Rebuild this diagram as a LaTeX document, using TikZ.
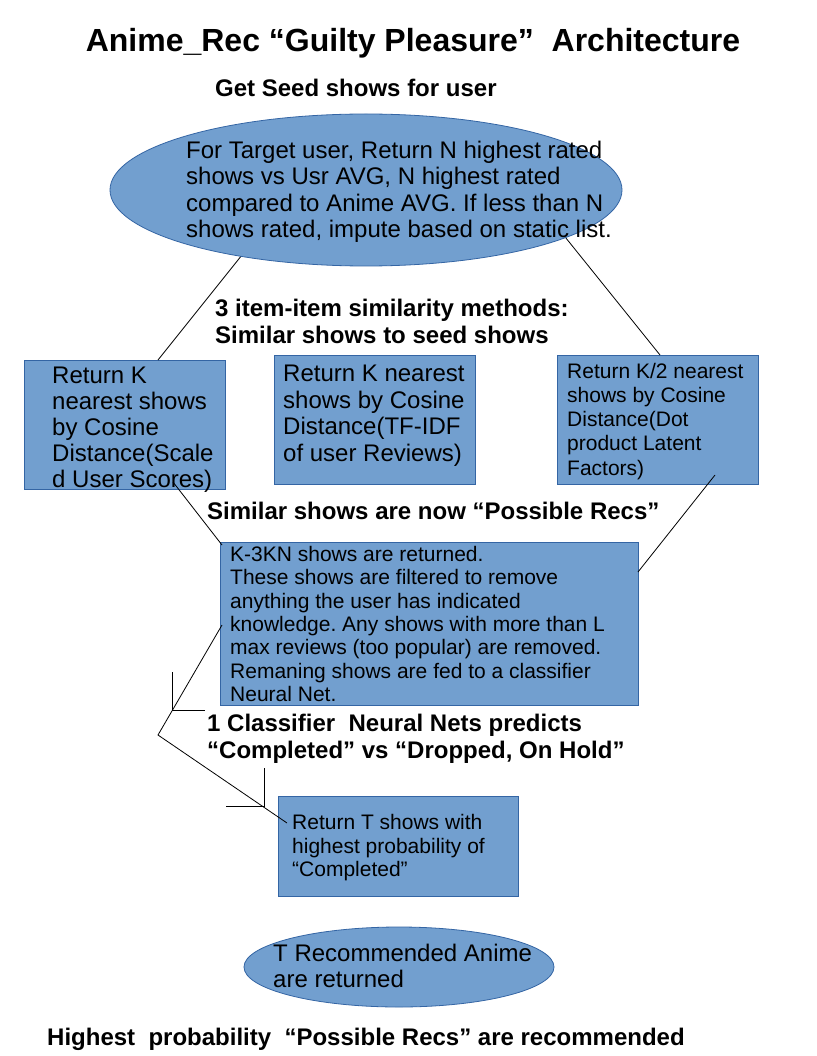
\documentclass[tikz,border=0pt]{standalone}
\usepackage{fontspec}
\setmainfont{Liberation Sans}
\usetikzlibrary{shapes.geometric}
\definecolor{boxfill}{HTML}{729FCF}
\definecolor{boxline}{HTML}{3465A4}
\frenchspacing
\begin{document}
\begin{tikzpicture}[x=1pt,y=-1pt,
  shapebox/.style={rectangle, draw=boxline, fill=boxfill, line width=0.8pt, inner sep=0, anchor=north west},
  ell/.style={ellipse, draw=boxline, fill=boxfill, line width=0.8pt, inner sep=0},
  body/.style={anchor=base west, align=left, inner sep=0, font=\fontsize{24}{26.5}\selectfont},
  small/.style={anchor=base west, align=left, inner sep=0, font=\fontsize{21}{23.4}\selectfont},
  head/.style={anchor=base west, align=left, inner sep=0, font=\bfseries\fontsize{24}{26.5}\selectfont},
  conn/.style={draw=black, line width=0.8pt}]
\path[use as bounding box] (0,0) rectangle (816,1056);
\fill[white] (0,0) rectangle (816,1056);

% title
\node[anchor=base, inner sep=0, font=\bfseries\fontsize{32}{37}\selectfont] (title) at (413,52) {Anime\_Rec “Guilty Pleasure”\ \ Architecture};

% three boxes
\node[shapebox, minimum width=201pt, minimum height=129pt] (b1) at (24,360) {};
\node[shapebox, minimum width=201pt, minimum height=129pt] (b2) at (274,355) {};
\node[shapebox, minimum width=201pt, minimum height=129pt] (b3) at (557,355) {};

% connectors from seed ellipse (start hidden under the ellipse)
\coordinate (s1) at (254,240);
\coordinate (s2) at (563.5,235);
\coordinate (b1t) at (158,360);
\coordinate (b3t) at (660,355);
\draw[conn] (s1) -- (b1t);
\draw[conn] (s2) -- (b3t);

% seed
\node[head] (hseed) at (215,97) {Get Seed shows for user};
\node[ell, minimum width=512pt, minimum height=152pt] (seed) at (366,190) {};
\node[body] (seedtxt) at (186,238) {For Target user, Return N highest rated\\shows vs Usr AVG, N highest rated\\compared to Anime AVG. If less than N\\shows rated, impute based on static list.};

% similarity heading
\node[head] (hsim) at (215,343) {3 item-item similarity methods:\\Similar shows to seed shows};

% box texts
\node[body, font=\fontsize{24}{26}\selectfont] (b1txt) at (52,487) {Return K\\nearest shows\\by Cosine\\Distance(Scale\\d User Scores)};
\node[body, font=\fontsize{24}{26.7}\selectfont] (b2txt) at (283,461.5) {Return K nearest\\shows by Cosine\\Distance(TF-IDF\\of user Reviews)};
\node[small, font=\fontsize{21}{24.2}\selectfont] (b3txt) at (567,475) {Return K/2 nearest\\shows by Cosine\\Distance(Dot\\product Latent\\Factors)};

\node[head] (hposs) at (207,519) {Similar shows are now “Possible Recs”};

% merge box
\node[shapebox, minimum width=418pt, minimum height=163pt] (mb) at (220,542) {};
\node[small, font=\fontsize{21}{23.33}\selectfont] (mbtxt) at (230,701.5) {K-3KN shows are returned.\\These shows are filtered to remove\\anything the user has indicated\\knowledge. Any shows with more than L\\max reviews (too popular) are removed.\\Remaning shows are fed to a classifier\\Neural Net.};

\node[head, font=\bfseries\fontsize{24}{27}\selectfont] (hcls) at (207,758) {1 Classifier\ \ Neural Nets predicts\\“Completed” vs “Dropped, On Hold”};

% result box
\node[shapebox, minimum width=240pt, minimum height=100pt] (rb) at (278,796) {};
\node[small, font=\fontsize{21}{23.33}\selectfont] (rbtxt) at (292,876.5) {Return T shows with\\highest probability of\\“Completed”};

% final ellipse
\node[ell, minimum width=310pt, minimum height=80pt] (fin) at (399,967) {};
\node[body, font=\fontsize{24}{25.5}\selectfont] (fintxt) at (273,987) {T Recommended Anime\\are returned};

\node[head] (hfoot) at (47,1045) {Highest\ \ probability\ \ “Possible Recs” are recommended};

% other connectors
\coordinate (b1b) at (173,482);
\coordinate (mbl) at (222,545);
\coordinate (b3b) at (715,475);
\coordinate (mbr) at (638,572);
\coordinate (mbk) at (222,625);
\coordinate (bend) at (158,735);
\coordinate (rbk) at (287,823);
\coordinate (t1a) at (172,672);
\coordinate (t1b) at (172,710);
\coordinate (t1c) at (205,710);
\coordinate (t2a) at (264,768);
\coordinate (t2b) at (264,806);
\coordinate (t2c) at (226,806);

\draw[conn] (b1b) -- (mbl);
\draw[conn] (b3b) -- (mbr);
\draw[conn] (mbk) -- (bend) -- (rbk);
\draw[conn] (t1a) -- (t1b) -- (t1c);
\draw[conn] (t2a) -- (t2b) -- (t2c);
\end{tikzpicture}
\end{document}
